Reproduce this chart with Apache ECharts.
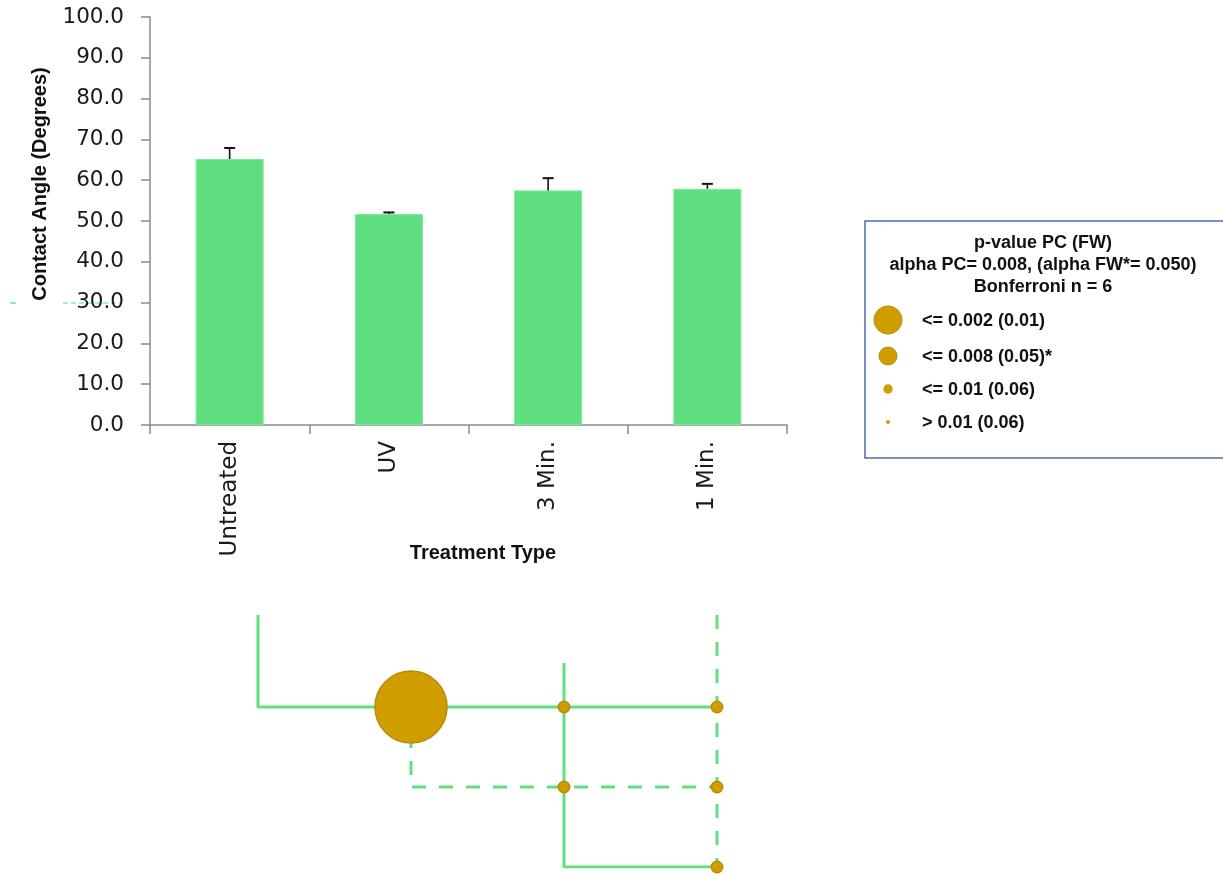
<!DOCTYPE html>
<html><head><meta charset="utf-8">
<script src="https://cdn.jsdelivr.net/npm/echarts@6/dist/echarts.min.js"></script>
<style>html,body{margin:0;padding:0;background:#fff}#c{width:1223px;height:875px}</style>
</head><body><div id="c"></div>
<script>
// ---- data ----
const categories = ['Untreated', 'UV', '3 Min.', '1 Min.'];
const meanAngle = [65.2, 51.7, 57.5, 57.9];
const errPlus = [2.7, 0.4, 3.0, 1.2];
const yMin = 0, yMax = 100, yStep = 10;
const yTitle = 'Contact Angle (Degrees)';
const xTitle = 'Treatment Type';
const legendTitle = ['p-value PC (FW)', 'alpha PC= 0.008, (alpha FW*= 0.050)', 'Bonferroni n = 6'];
const pLabels = ['<= 0.002 (0.01)', '<= 0.008 (0.05)*', '<= 0.01 (0.06)', '> 0.01 (0.06)'];
// pairwise comparisons: [group A, group B, p-value class]
const comparisons = [[0, 1, 0], [0, 2, 3], [0, 3, 3], [1, 2, 3], [1, 3, 3], [2, 3, 3]];
// level where each group's connector begins (diagram rows are 1..3)
const stemTop = [-0.15, 1, 0.45, -0.15];
const stemDashed = [false, true, false, true];

// ---- styles ----
const GREEN = '#5fdf7f';
const GOLD = '#cf9d00';
const GOLD_EDGE = '#b88a05';
const diagramSize = [72, 36, 20, 11.5];
const legendRadius = [14, 9, 4.7, 2];
const LFONT = 'bold 18px "Liberation Sans", Arial, sans-serif';

const nRows = categories.length - 1;
const diagramLines = categories.map((c, g) => {
  const pts = g < nRows
    ? [[g, stemTop[g]], [g, g + 1], [nRows, g + 1]]
    : [[g, stemTop[g]], [g, nRows]];
  return {
    type: 'line', xAxisIndex: 1, yAxisIndex: 1, data: pts, symbol: 'none', z: 2,
    lineStyle: { color: GREEN, width: 3, type: stemDashed[g] ? [14, 13] : 'solid' },
    silent: true, animation: false
  };
});

const chart = echarts.init(document.getElementById('c'), null, { renderer: 'canvas' });

const graphics = [
  { type: 'line', shape: { x1: 10, y1: 303, x2: 16, y2: 303 }, style: { stroke: GREEN, lineWidth: 1.2 } },
  { type: 'line', shape: { x1: 63, y1: 303, x2: 120, y2: 303 }, style: { stroke: GREEN, lineWidth: 1.2, lineDash: [5, 3] } },
  { type: 'text', x: 40, y: 184, rotation: Math.PI / 2,
    style: { text: yTitle, font: 'bold 20px "Liberation Sans", Arial, sans-serif', fill: '#111', align: 'center', verticalAlign: 'middle' } },
  { type: 'text', x: 483, y: 553,
    style: { text: xTitle, font: 'bold 20px "Liberation Sans", Arial, sans-serif', fill: '#111', align: 'center', verticalAlign: 'middle' } },
  { type: 'rect', shape: { x: 865, y: 221, width: 400, height: 237 },
    style: { fill: '#fff', stroke: '#4a6ba8', lineWidth: 1.5 } }
];
legendTitle.forEach((t, i) => graphics.push({
  type: 'text', x: 1043, y: 243 + i * 22,
  style: { text: t, font: LFONT, fill: '#111', align: 'center', verticalAlign: 'middle' }
}));
const legendY = [320, 356, 389, 422];
pLabels.forEach((t, i) => {
  graphics.push({ type: 'circle', shape: { cx: 888, cy: legendY[i], r: legendRadius[i] },
    style: { fill: GOLD, stroke: GOLD_EDGE, lineWidth: i < 2 ? 1 : 0 } });
  graphics.push({ type: 'text', x: 922, y: legendY[i] + 1,
    style: { text: t, font: LFONT, fill: '#111', align: 'left', verticalAlign: 'middle' } });
});

chart.setOption({
  animation: false,
  backgroundColor: '#fff',
  grid: [
    { left: 150, right: 436, top: 17, bottom: 450 },
    { left: 258, width: 459, top: 615, height: 252 }
  ],
  xAxis: [
    { type: 'category', gridIndex: 0, data: categories,
      axisLine: { lineStyle: { color: '#8a8a8a', width: 1.5 } },
      axisTick: { show: true, length: 9, alignWithLabel: false, lineStyle: { color: '#8a8a8a', width: 1.5 } },
      axisLabel: { rotate: 90, margin: 16, fontFamily: '"DejaVu Sans", sans-serif', fontSize: 23, color: '#1a1a1a', interval: 0 },
      splitLine: { show: false } },
    { type: 'value', gridIndex: 1, min: 0, max: 3, show: false }
  ],
  yAxis: [
    { type: 'value', gridIndex: 0, min: yMin, max: yMax, interval: yStep,
      axisLine: { show: true, lineStyle: { color: '#8a8a8a', width: 1.5 } },
      axisTick: { show: true, length: 9, lineStyle: { color: '#8a8a8a', width: 1.5 } },
      axisLabel: { margin: 26, fontFamily: '"DejaVu Sans", sans-serif', fontSize: 21.5, color: '#1a1a1a',
        formatter: v => v.toFixed(1) },
      splitLine: { show: false } },
    { type: 'value', gridIndex: 1, min: -0.15, max: 3, inverse: true, show: false }
  ],
  series: [
    { type: 'bar', xAxisIndex: 0, yAxisIndex: 0, data: meanAngle, barWidth: 68,
      itemStyle: { color: GREEN, borderColor: '#7be896', borderWidth: 1 }, z: 2 },
    { type: 'custom', xAxisIndex: 0, yAxisIndex: 0, z: 5,
      data: meanAngle.map((m, i) => [i, m, m + errPlus[i]]),
      renderItem(params, api) {
        const b = api.coord([api.value(0), api.value(1)]);
        const t = api.coord([api.value(0), api.value(2)]);
        return { type: 'group', children: [
          { type: 'line', shape: { x1: b[0], y1: b[1], x2: t[0], y2: t[1] }, style: { stroke: '#111', lineWidth: 1.6 } },
          { type: 'line', shape: { x1: t[0] - 5.5, y1: t[1], x2: t[0] + 5.5, y2: t[1] }, style: { stroke: '#111', lineWidth: 2 } }
        ] };
      } },
    ...diagramLines,
    { type: 'scatter', xAxisIndex: 1, yAxisIndex: 1, z: 4,
      data: comparisons.map(c => [c[1], c[0] + 1, c[2]]),
      symbol: 'circle',
      symbolSize: v => diagramSize[v[2]],
      itemStyle: { color: GOLD, borderColor: GOLD_EDGE, borderWidth: 1.5, opacity: 1 } }
  ],
  graphic: graphics
});
</script></body></html>
